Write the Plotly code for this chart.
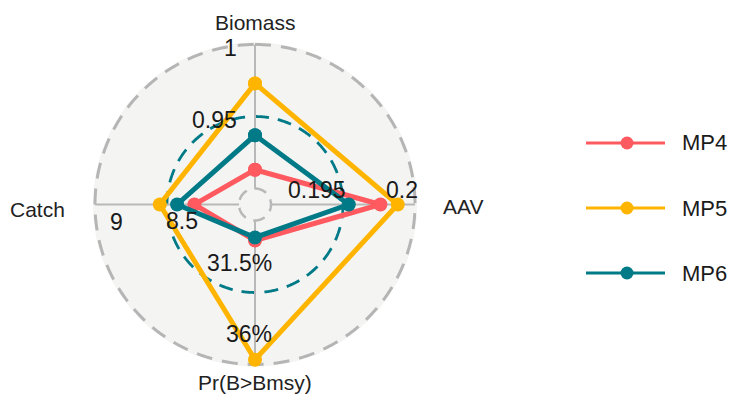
import numpy as np
import plotly.graph_objects as go

# ---- data ----
axes_names = ["Biomass", "AAV", "Pr(B>Bmsy)", "Catch"]
axis_min = [0.90, 0.190, 27.0, 8.0]
axis_mid_labels = ["0.95", "0.195", "31.5%", "8.5"]
axis_max_labels = ["1", "0.2", "36%", "9"]
axis_max = [1.00, 0.200, 36.0, 9.0]

series_names = ["MP4", "MP5", "MP6"]
mp4 = [0.913, 0.1976, 28.25, 8.31]
mp5 = [0.973, 0.1988, 35.7, 8.55]
mp6 = [0.937, 0.1954, 28.06, 8.43]
series_values = [mp4, mp5, mp6]
series_colors = ["#FF5A5F", "#FFB400", "#007A87"]

W, H = 730, 400
CX, CY, R1 = 255, 204.5, 160
centre_y = -1.0 / 9.0
r_top = 1.015
R = R1 * (r_top - centre_y) / (1 - centre_y)

def px(x):
    return x / W

def py(y):
    return 1 - y / H

n = len(axes_names)
angles = [i * 360.0 / n for i in range(n)]

def scale(vals):
    return [(v - lo) / (hi - lo) for v, lo, hi in zip(vals, axis_min, axis_max)]

fig = go.Figure()

circle_theta = np.linspace(0, 360, 721)
# grid circles
for rv, col, w, dash in [(0.0, "#B8B8B8", 2.5, "12px,8px"),
                         (0.5, "#007A87", 2.8, "14px,9px"),
                         (1.0, "#B5B5B5", 3, "16px,10px")]:
    fig.add_trace(go.Scatterpolar(
        r=[rv] * len(circle_theta), theta=circle_theta, mode="lines",
        line=dict(color=col, width=w, dash=dash),
        hoverinfo="skip", showlegend=False, cliponaxis=False))

# axis lines
for a in angles:
    fig.add_trace(go.Scatterpolar(
        r=[0, 1], theta=[a, a], mode="lines",
        line=dict(color="#B8B8B8", width=2),
        hoverinfo="skip", showlegend=False, cliponaxis=False))

# series
for name, vals, col in zip(series_names, series_values, series_colors):
    s = scale(vals)
    fig.add_trace(go.Scatterpolar(
        r=s + [s[0]], theta=angles + [angles[0]], mode="lines+markers",
        name=name, line=dict(color=col, width=5),
        marker=dict(color=col, size=14), showlegend=False, cliponaxis=False))

font_family = "Liberation Sans, Arial, sans-serif"
annotations = []
# axis names
name_pos = [(255, 22, "center"), (463, 207, "center"), (255, 382, "center"), (37, 209, "center")]
for nm, (x, y, xa) in zip(axes_names, name_pos):
    annotations.append(dict(x=px(x), y=py(y), xref="paper", yref="paper", text=nm,
                            showarrow=False, xanchor=xa, yanchor="middle",
                            font=dict(size=21, color="#222222", family=font_family)))
# grid labels
mid_pos = [(239, 120, "right"), (348, 190, "right"), (274, 263, "right"), (164, 221, "left")]
max_pos = [(239, 48, "right"), (420, 190, "right"), (274, 334, "right"), (108, 222, "left")]
for lab, (x, y, xa) in zip(axis_mid_labels + axis_max_labels, mid_pos + max_pos):
    annotations.append(dict(x=px(x), y=py(y), xref="paper", yref="paper", text=lab,
                            showarrow=False, xanchor=xa, yanchor="middle",
                            font=dict(size=23, color="#1a1a1a", family=font_family)))

# manual legend
shapes = []
leg_y = [143, 208, 273]
for name, col, y in zip(series_names, series_colors, leg_y):
    shapes.append(dict(type="line", xref="paper", yref="paper",
                       x0=px(586), x1=px(665), y0=py(y), y1=py(y),
                       line=dict(color=col, width=3)))
    shapes.append(dict(type="circle", xref="paper", yref="paper",
                       x0=px(620.5), x1=px(633.5), y0=py(y - 6.5), y1=py(y + 6.5),
                       fillcolor=col, line=dict(color=col, width=0)))
    annotations.append(dict(x=px(680), y=py(y), xref="paper", yref="paper", text=name,
                            showarrow=False, xanchor="left", yanchor="middle",
                            font=dict(size=22, color="#1a1a1a", family=font_family)))

fig.update_layout(
    width=W, height=H,
    margin=dict(l=0, r=0, t=0, b=0),
    paper_bgcolor="white",
    showlegend=False,
    polar=dict(
        domain=dict(x=[px(CX - R), px(CX + R)], y=[py(CY + R), py(CY - R)]),
        bgcolor="#F4F4F3",
        radialaxis=dict(range=[centre_y, r_top], visible=False),
        angularaxis=dict(rotation=90, direction="clockwise", showgrid=False,
                         showline=False, showticklabels=False, ticks=""),
    ),
    annotations=annotations,
    shapes=shapes,
)

fig.write_html("out.html", config={"displayModeBar": False},
               post_script="document.body.style.margin='0';document.body.style.overflow='hidden';")
